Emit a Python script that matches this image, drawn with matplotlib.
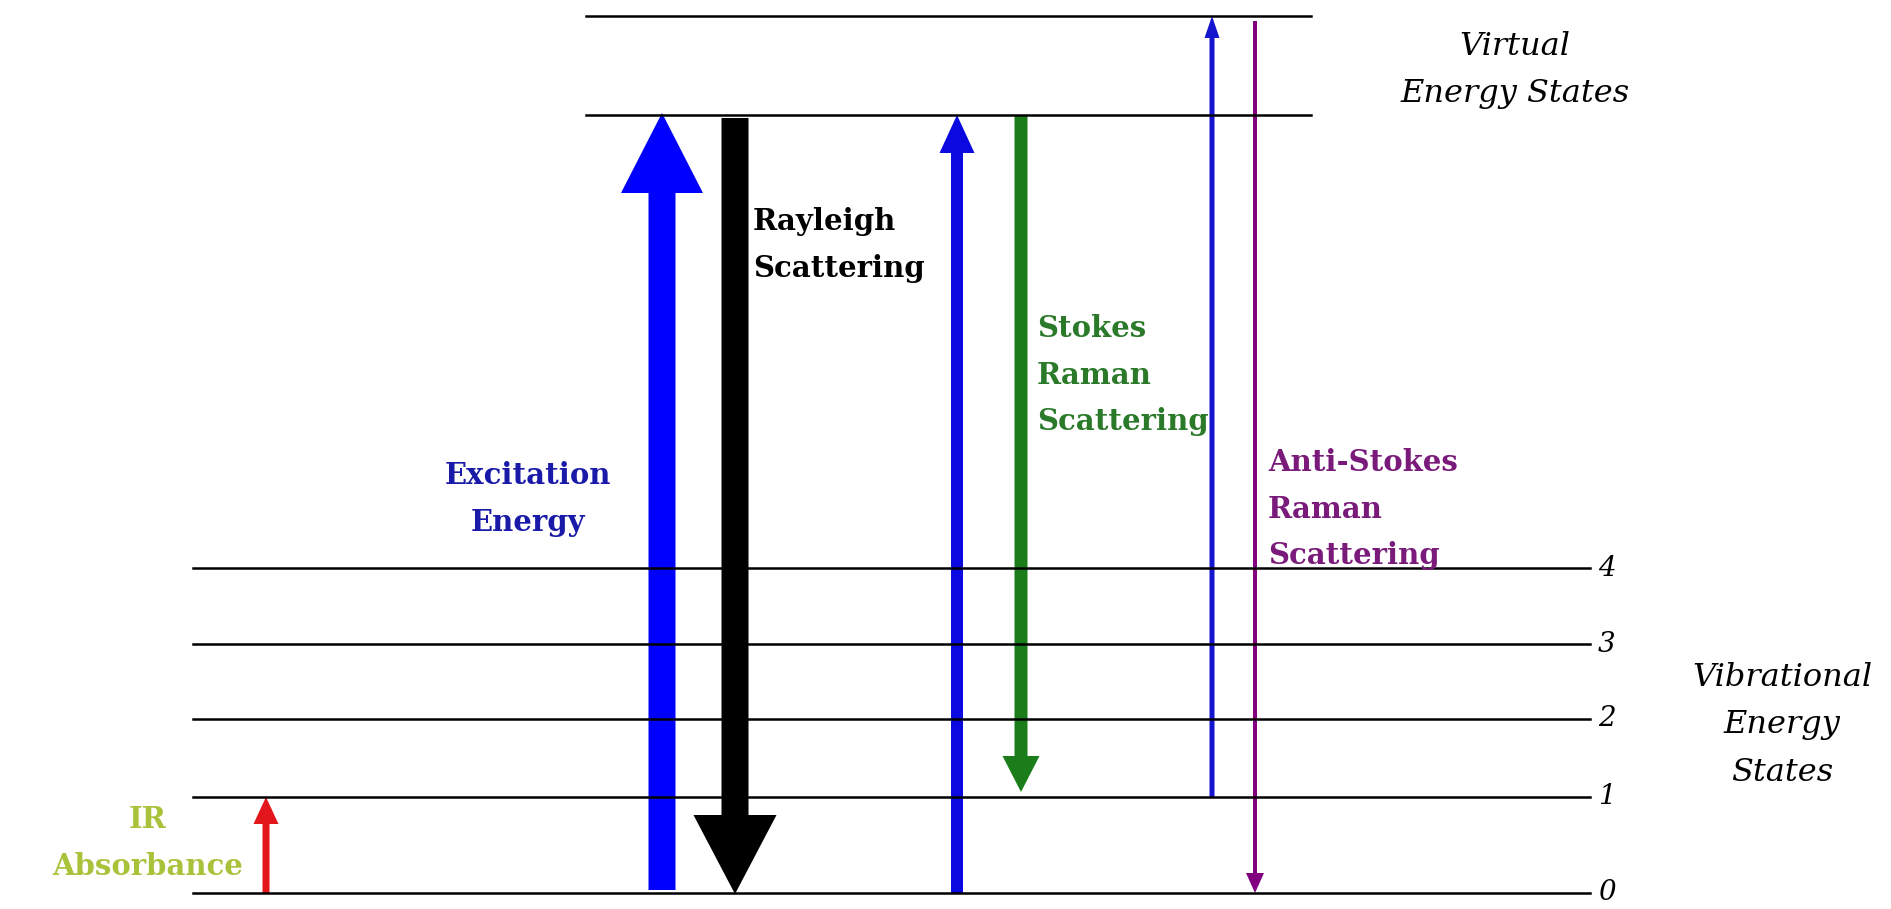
import matplotlib.pyplot as plt

# Niveles de energia (unidades del eje vertical, 0 = estado fundamental)
vib_labels = ['0', '1', '2', '3', '4']
vib_energy = [0, 96, 174, 249, 325]
virtual_energy = [778, 877]

# Transiciones: posicion horizontal, energia inicial, energia final
trans_names = ['IR', 'Excitation', 'Rayleigh', 'Stokes up', 'Stokes down', 'Anti up', 'Anti down']
trans_x = [266, 662, 735, 957, 1021, 1212, 1255]
trans_from = [0, 3, 775, 0, 778, 96, 872]
trans_to = [96, 780, -1, 778, 101, 877, 0]

# Estilo de cada flecha (ancho, ancho de punta, largo de punta, color)
anchos = [7, 27, 27, 12, 13, 5, 4]
anchos_punta = [25, 82, 83, 35, 37, 15, 18]
largos_punta = [27, 80, 79, 38, 36, 22, 20]
colores = ['#e3171b', '#0000ff', '#000000', '#0a0ae0', '#1a7d1a', '#1515d0', '#800080']

fig = plt.figure(figsize=(18.91, 9.09), dpi=100)
ax = fig.add_axes([0, 0, 1, 1])
ax.set_xlim(0, 1891)
ax.set_ylim(-16, 893)
ax.axis('off')

# Lineas de los estados vibracionales
for lab, e in zip(vib_labels, vib_energy):
    ax.plot([193, 1590], [e, e], color='black', lw=1.8)
    ax.text(1598, e, lab, fontsize=20, family='DejaVu Serif', style='italic',
            ha='left', va='center')

# Lineas de los estados virtuales
for e in virtual_energy:
    ax.plot([586, 1311], [e, e], color='black', lw=1.8)

# Flechas de transicion
for x, e0, e1, w, hw, hl, c in zip(trans_x, trans_from, trans_to, anchos,
                                   anchos_punta, largos_punta, colores):
    ax.arrow(x, e0, 0, e1 - e0, width=w, head_width=hw, head_length=hl,
             length_includes_head=True, color=c, lw=0)

# Textos
serif_b = dict(family='DejaVu Serif', weight='bold', fontsize=21, linespacing=1.78)
serif_i = dict(family='DejaVu Serif', style='italic', fontsize=23, linespacing=1.7)

ax.text(1515, 823, 'Virtual\nEnergy States', ha='center', va='center', **serif_i)
ax.text(1782, 168, 'Vibrational\nEnergy\nStates', ha='center', va='center', **serif_i)

ax.text(753, 648, 'Rayleigh\nScattering', ha='left', va='center', color='black', **serif_b)
ax.text(528, 394, 'Excitation\nEnergy', ha='center', va='center', color='#1a1aa8', **serif_b)
ax.text(1037, 518, 'Stokes\nRaman\nScattering', ha='left', va='center', color='#2a7a2a', **serif_b)
ax.text(1268, 384, 'Anti-Stokes\nRaman\nScattering', ha='left', va='center', color='#7a1a7a', **serif_b)
ax.text(148, 50, 'IR\nAbsorbance', ha='center', va='center', color='#a8c23a', **serif_b)

plt.savefig('out.png', dpi=100)
